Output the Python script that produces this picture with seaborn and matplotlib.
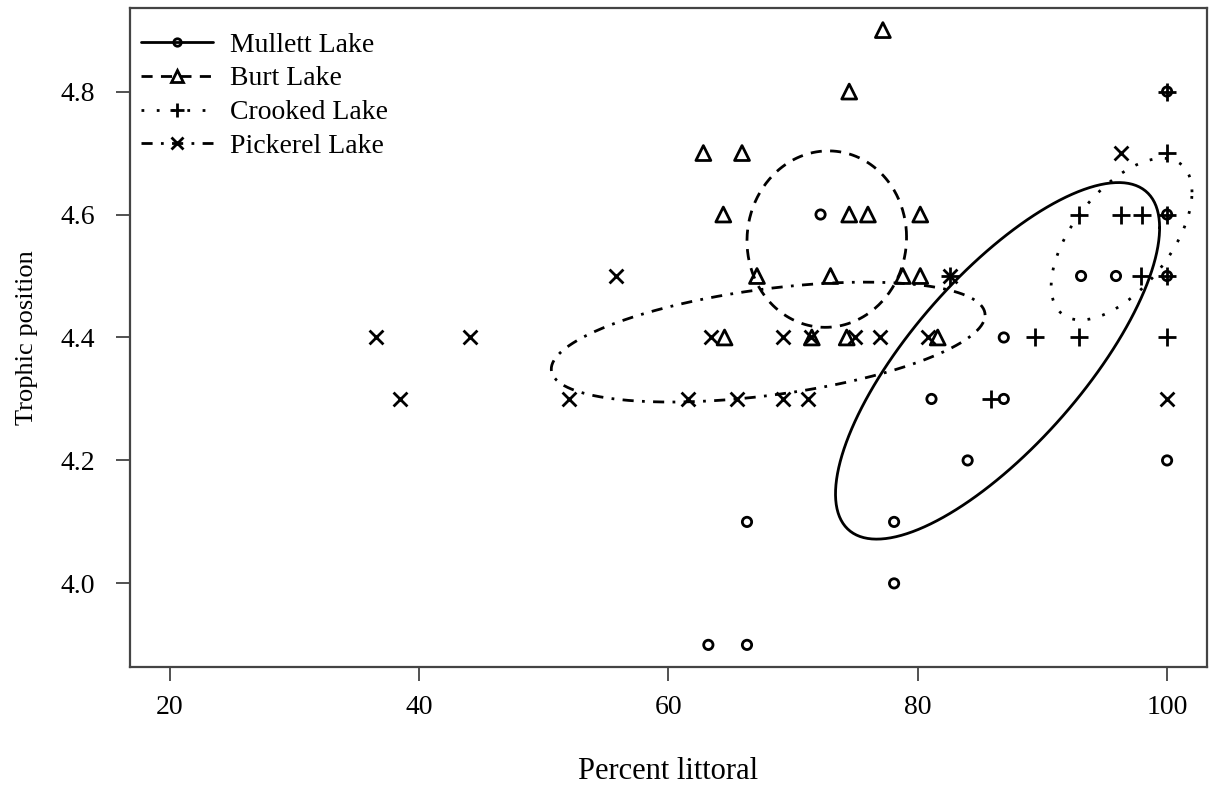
import numpy as np
import pandas as pd
import matplotlib
matplotlib.use("Agg")
import matplotlib.pyplot as plt
from matplotlib.lines import Line2D
import seaborn as sns

sns.set_theme(style="ticks")
plt.rcParams['font.family'] = ['Liberation Serif', 'DejaVu Serif']
plt.rcParams['text.color'] = 'black'
plt.rcParams['axes.labelcolor'] = 'black'
plt.rcParams['xtick.color'] = 'black'
plt.rcParams['ytick.color'] = 'black'

# -------------------------------
# Data
# -------------------------------
lakes = ["Mullett Lake", "Burt Lake", "Crooked Lake", "Pickerel Lake"]

mullett_x = [72.2, 93.1, 95.9, 100, 100, 100, 86.9, 81.1, 86.9, 84.0, 100, 66.3, 78.1, 78.1, 63.2, 66.3]
mullett_y = [4.6, 4.5, 4.5, 4.8, 4.6, 4.5, 4.4, 4.3, 4.3, 4.2, 4.2, 4.1, 4.1, 4.0, 3.9, 3.9]

burt_x = [77.2, 74.5, 62.8, 65.9, 64.4, 74.5, 76.0, 80.2, 67.1, 73.0, 78.8, 80.2, 64.5, 71.5, 74.3, 81.6]
burt_y = [4.9, 4.8, 4.7, 4.7, 4.6, 4.6, 4.6, 4.6, 4.5, 4.5, 4.5, 4.5, 4.4, 4.4, 4.4, 4.4]

crooked_x = [100, 100, 92.9, 96.3, 98.0, 100, 82.6, 97.9, 100, 89.4, 92.9, 100, 85.9]
crooked_y = [4.8, 4.7, 4.6, 4.6, 4.6, 4.6, 4.5, 4.5, 4.5, 4.4, 4.4, 4.4, 4.3]

pickerel_x = [36.5, 44.1, 38.5, 52.0, 55.8, 61.6, 65.5, 69.2, 71.2, 63.4, 69.2, 71.4, 75.0, 77.0, 80.8, 82.6, 96.3, 100]
pickerel_y = [4.4, 4.4, 4.3, 4.3, 4.5, 4.3, 4.3, 4.3, 4.3, 4.4, 4.4, 4.4, 4.4, 4.4, 4.4, 4.5, 4.7, 4.3]

# ellipse summaries: centre, half-ranges and tilt
ell_cx = [86.4, 72.7, 96.35, 68.0]
ell_cy = [4.362, 4.56, 4.56, 4.3925]
ell_sx = [13.0, 6.4, 5.65, 17.4]
ell_sy = [0.29, 0.1435, 0.1315, 0.0975]
ell_rho = [0.746, 0.02, 0.58, 0.45]

df = pd.concat([
    pd.DataFrame({"x": mullett_x, "y": mullett_y, "lake": lakes[0]}),
    pd.DataFrame({"x": burt_x, "y": burt_y, "lake": lakes[1]}),
    pd.DataFrame({"x": crooked_x, "y": crooked_y, "lake": lakes[2]}),
    pd.DataFrame({"x": pickerel_x, "y": pickerel_y, "lake": lakes[3]}),
])

# -------------------------------
# Styles
# -------------------------------
markers = ["o", "^", "+", "x"]
sizes = [45, 115, 170, 100]
linestyles = ["-", (0, (4, 3)), (0, (1, 4.5)), (0, (4, 3, 1, 3))]
lw = 2.0

fig = plt.figure(figsize=(12.1, 7.95), dpi=100)
ax = fig.add_axes([0.1074, 0.161, 0.8901, 0.829])

for i, lake in enumerate(lakes):
    sub = df[df["lake"] == lake]
    if markers[i] in ["o", "^"]:
        sns.scatterplot(data=sub, x="x", y="y", marker=markers[i], s=sizes[i],
                        facecolors="none", edgecolor="black", linewidth=2.0, ax=ax)
    else:
        sns.scatterplot(data=sub, x="x", y="y", marker=markers[i], s=sizes[i],
                        color="black", linewidth=2.0, ax=ax)

t = np.linspace(0, 2 * np.pi, 300)
for i in range(len(lakes)):
    ex = ell_cx[i] + ell_sx[i] * np.cos(t)
    ey = ell_cy[i] + ell_sy[i] * (ell_rho[i] * np.cos(t) + np.sqrt(1 - ell_rho[i] ** 2) * np.sin(t))
    ax.plot(ex, ey, color="black", linestyle=linestyles[i], linewidth=lw)

ax.set_xlim(16.8, 103.2)
ax.set_ylim(3.864, 4.936)
ax.set_xticks([20, 40, 60, 80, 100])
ax.set_yticks([4.0, 4.2, 4.4, 4.6, 4.8])
ax.set_yticklabels(["4.0", "4.2", "4.4", "4.6", "4.8"])
ax.tick_params(axis="both", direction="out", length=10, width=1.2, color="#333333", labelsize=20)
ax.tick_params(axis="x", pad=10)
ax.tick_params(axis="y", pad=15)
for sp in ax.spines.values():
    sp.set_visible(True)
    sp.set_linewidth(1.6)
    sp.set_color("#444444")

ax.set_xlabel("Percent littoral", fontsize=22, labelpad=27)
ax.set_ylabel("Trophic position", fontsize=19, labelpad=16)

handles = [Line2D([], [], color="black", linestyle=linestyles[i], linewidth=lw,
                  marker=markers[i], markersize=np.sqrt(sizes[i]) * 0.8,
                  markerfacecolor="none", markeredgecolor="black", markeredgewidth=2.0)
           for i in range(len(lakes))]
ax.legend(handles, lakes, loc="upper left", bbox_to_anchor=(0.0, 0.98), frameon=False,
          fontsize=20, handlelength=2.6, handletextpad=0.6, labelspacing=0.3,
          borderaxespad=0.2, borderpad=0.2)

plt.savefig("out.png", dpi=100)
